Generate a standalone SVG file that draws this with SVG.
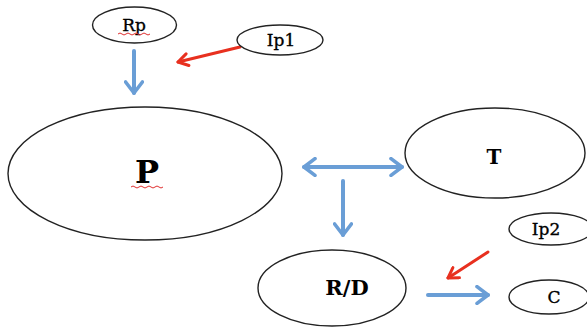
<svg xmlns="http://www.w3.org/2000/svg" width="587" height="329" viewBox="0 0 587 329">
<style>
.n{fill:#fff;stroke:#222;stroke-width:1.4}
.t{font-family:"DejaVu Serif","Liberation Serif",serif;fill:#000;text-anchor:middle}
.m{stroke:#000;stroke-width:0.35}
.b{stroke:#6a9ed6;stroke-width:4;fill:none;stroke-linecap:round}
.r{stroke:#e8301f;stroke-width:3;fill:none;stroke-linecap:round}
.sq{stroke:#e03030;stroke-width:1;fill:none}
</style>
<defs>
<marker id="ab" viewBox="0 0 10 10" refX="8" refY="5" markerWidth="5" markerHeight="5" orient="auto-start-reverse" markerUnits="strokeWidth">
<polyline points="2.5,0.8 8,5 2.5,9.2" fill="none" stroke="#6a9ed6" stroke-width="1.8" stroke-linecap="round" stroke-linejoin="round"/>
</marker>
<marker id="ar" viewBox="0 0 10 10" refX="8" refY="5" markerWidth="5" markerHeight="5" orient="auto" markerUnits="strokeWidth">
<polyline points="1.5,1 8,5 1.5,9" fill="none" stroke="#e8301f" stroke-width="2" stroke-linecap="round" stroke-linejoin="round"/>
</marker>
</defs>
<rect width="587" height="329" fill="#fff"/>
<g id="connectors">
<line class="b" x1="134" y1="51" x2="134" y2="93" marker-end="url(#ab)"/>
<line class="r" x1="240" y1="47" x2="178" y2="62" marker-end="url(#ar)"/>
<line class="b" x1="304" y1="167" x2="402" y2="167" marker-start="url(#ab)" marker-end="url(#ab)"/>
<line class="b" x1="343" y1="181" x2="343" y2="235" marker-end="url(#ab)"/>
<line class="b" x1="428" y1="295" x2="488" y2="295" marker-end="url(#ab)"/>
<line class="r" x1="488" y1="252" x2="448" y2="278" marker-end="url(#ar)"/>
</g>
<g id="Rp">
<ellipse class="n" cx="134.5" cy="25" rx="42" ry="18"/>
<text class="t m" x="134" y="31" font-size="17">Rp</text>
<path class="sq" d="M118,34 q2,-2 4,0 t4,0 t4,0 t4,0 t4,0 t4,0 t4,0 t4,0"/>
</g>
<g id="Ip1">
<ellipse class="n" cx="280" cy="40" rx="43" ry="15"/>
<text class="t m" x="281" y="46" font-size="17">Ip1</text>
</g>
<g id="P">
<ellipse class="n" cx="145" cy="173.5" rx="137" ry="66.5"/>
<text class="t" x="147" y="183" font-size="32" font-weight="bold">P</text>
<path class="sq" d="M131,187 q2,-2 4,0 t4,0 t4,0 t4,0 t4,0 t4,0 t4,0 t4,0"/>
</g>
<g id="T">
<ellipse class="n" cx="495" cy="153" rx="90" ry="45"/>
<text class="t" x="494" y="164" font-size="20" font-weight="bold">T</text>
</g>
<g id="RD">
<ellipse class="n" cx="332" cy="288" rx="74" ry="38"/>
<text class="t" x="347" y="295" font-size="21" font-weight="bold">R/D</text>
</g>
<g id="Ip2">
<ellipse class="n" cx="551" cy="229" rx="42" ry="16"/>
<text class="t m" x="546" y="235" font-size="17">Ip2</text>
</g>
<g id="C">
<ellipse class="n" cx="549" cy="297" rx="40" ry="17"/>
<text class="t m" x="554" y="303" font-size="17">C</text>
</g>
</svg>
